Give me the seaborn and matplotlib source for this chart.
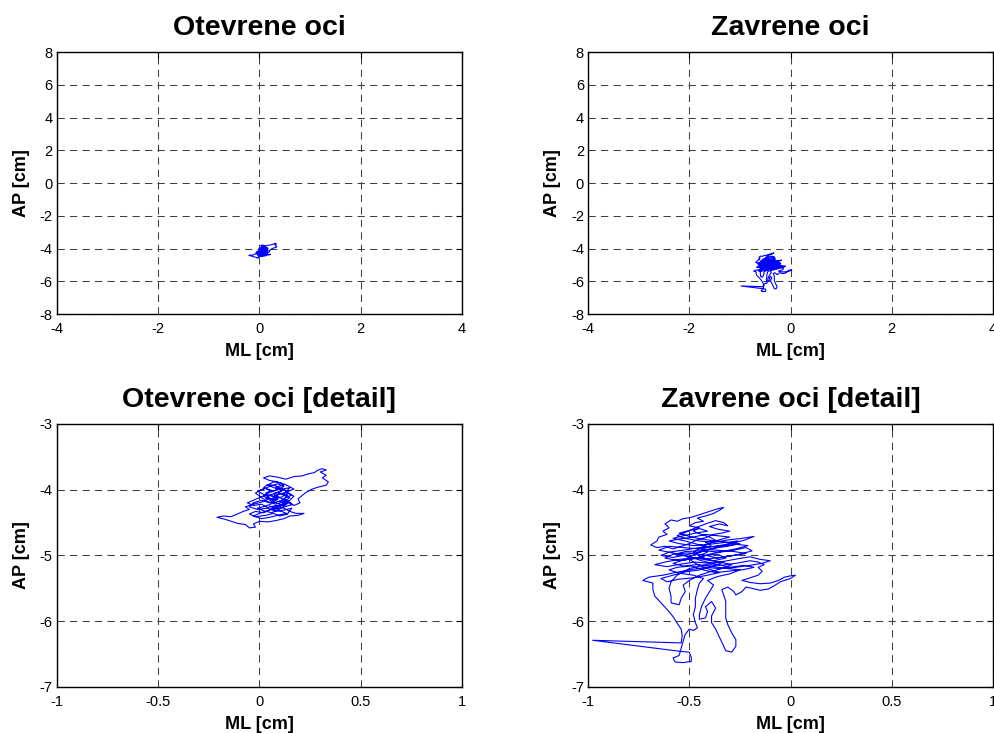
import numpy as np
import pandas as pd
import matplotlib
matplotlib.use("Agg")
import matplotlib.pyplot as plt
import seaborn as sns

# COP trajectory, eyes open (ML, AP in cm)
open_ml = [0.06, 0.09, 0.07, 0.11, 0.08, 0.12, 0.09, 0.05, 0.02, 0.05, 0.09, 0.13,
           0.17, 0.21, 0.24, 0.27, 0.29, 0.31, 0.33, 0.30, 0.33, 0.31, 0.34, 0.33,
           0.29, 0.26, 0.23, 0.21, 0.19, 0.20, 0.17, 0.15, 0.12, 0.14, 0.10, 0.07,
           0.03, 0.00, -0.03, -0.06, -0.03, 0.01, 0.04, 0.08, 0.12, 0.15, 0.18, 0.22,
           0.19, 0.15, 0.12, 0.08, 0.04, 0.00, -0.03, -0.02, -0.05, -0.07, -0.11, -0.14,
           -0.17, -0.21, -0.18, -0.14, -0.11, -0.08, -0.05, -0.07, -0.03, 0.02, 0.05, 0.03,
           0.06, 0.02, 0.04, 0.08, 0.11, 0.15, 0.13, 0.16, 0.13, 0.10, 0.13, 0.09,
           0.05, 0.02, -0.02, -0.05, -0.02, 0.03, 0.07, 0.10, 0.14, 0.11, 0.07, 0.10,
           0.14, 0.11, 0.07, 0.03, -0.01, 0.02, 0.06, 0.09, 0.12, 0.16, 0.13, 0.09,
           0.06, 0.02, 0.05, 0.09, 0.12, 0.09, 0.05, 0.01, -0.02, 0.01, 0.04, 0.08]
open_ap = [-4.18, -4.12, -4.06, -4.02, -3.96, -3.93, -3.88, -3.86, -3.82, -3.79, -3.81, -3.84,
           -3.80, -3.79, -3.76, -3.74, -3.70, -3.68, -3.70, -3.73, -3.78, -3.82, -3.88, -3.93,
           -3.96, -3.99, -4.04, -4.09, -4.14, -4.20, -4.24, -4.19, -4.14, -4.08, -4.05, -4.10,
           -4.08, -4.12, -4.16, -4.20, -4.24, -4.22, -4.27, -4.24, -4.28, -4.33, -4.36, -4.36,
           -4.39, -4.40, -4.44, -4.47, -4.49, -4.48, -4.52, -4.57, -4.58, -4.53, -4.51, -4.48,
           -4.45, -4.42, -4.40, -4.41, -4.37, -4.33, -4.30, -4.26, -4.22, -4.18, -4.13, -4.05,
           -4.01, -3.97, -3.92, -3.94, -3.99, -3.97, -4.03, -4.08, -4.12, -4.18, -4.22, -4.26,
           -4.31, -4.35, -4.33, -4.37, -4.41, -4.39, -4.36, -4.40, -4.37, -4.33, -4.30, -4.25,
           -4.21, -4.16, -4.20, -4.25, -4.28, -4.32, -4.35, -4.31, -4.26, -4.23, -4.17, -4.10,
           -4.14, -4.10, -4.04, -4.00, -3.95, -3.91, -3.95, -4.00, -4.05, -4.12, -4.18, -4.22]
# rest of the open-eyes trace (dense core)
open_ml_core = [0.12, 0.15, 0.11, 0.14, 0.10, 0.06, 0.03, -0.01, 0.02, 0.06,
                0.09, 0.05, 0.01, -0.03, -0.05, -0.01, 0.04, 0.08, 0.12, 0.16,
                0.14, 0.10, 0.05, 0.01, -0.03, 0.00, 0.04, 0.07, 0.11, 0.15,
                0.17, 0.14, 0.11, 0.07, 0.03, 0.05, 0.09, 0.12, 0.08, 0.04,
                0.07, 0.11, 0.14, 0.17, 0.13, 0.09, 0.05, 0.09, 0.13, 0.09,
                0.05]
open_ap_core = [-4.18, -4.12, -4.07, -4.02, -3.98, -4.03, -3.98, -4.02, -4.07, -4.09,
                -4.15, -4.20, -4.16, -4.20, -4.26, -4.30, -4.28, -4.33, -4.31, -4.28,
                -4.36, -4.38, -4.42, -4.44, -4.40, -4.36, -4.32, -4.27, -4.22, -4.16,
                -4.10, -4.05, -4.11, -4.15, -4.13, -4.08, -4.04, -4.00, -3.98, -3.93,
                -3.88, -3.90, -3.94, -3.99, -4.04, -4.08, -4.16, -4.21, -4.25, -4.29,
                -4.25]

# COP trajectory, eyes closed
closed_ml = [
    -0.45, -0.41, -0.44, -0.39, -0.42, -0.37, -0.40, -0.44, -0.48, -0.45, -0.50, -0.47,
    -0.43, -0.46, -0.42, -0.38, -0.35, -0.33, -0.36, -0.40, -0.44, -0.49, -0.53, -0.56,
    -0.59, -0.62, -0.60, -0.63, -0.61, -0.65, -0.66, -0.69, -0.66, -0.62, -0.58, -0.54,
    -0.50, -0.46, -0.42, -0.38, -0.34, -0.30, -0.36, -0.40, -0.35, -0.31, -0.33, -0.37,
    -0.42, -0.47, -0.52, -0.56, -0.52, -0.45, -0.38, -0.30, -0.24, -0.18, -0.23, -0.30,
    -0.37, -0.45, -0.53, -0.60, -0.64, -0.58, -0.50, -0.42, -0.35, -0.28, -0.22, -0.19,
    -0.25, -0.32, -0.40, -0.47, -0.55, -0.62, -0.67, -0.61, -0.54, -0.47, -0.40, -0.33,
    -0.26, -0.20, -0.15, -0.10, -0.14, -0.20, -0.27, -0.35, -0.42, -0.50, -0.57, -0.63,
    -0.70, -0.73, -0.68,
    -0.68, -0.67, -0.64, -0.61, -0.58, -0.56, -0.54, -0.535, -0.54, -0.977, -0.54, -0.50,
    -0.49, -0.49, -0.53, -0.57, -0.58, -0.55, -0.53, -0.52, -0.50, -0.48, -0.46, -0.47,
    -0.48, -0.47, -0.47, -0.46, -0.45, -0.43,
    -0.48, -0.55, -0.60, -0.56, -0.49, -0.43, -0.37, -0.31, -0.25, -0.30, -0.36, -0.41,
    -0.38, -0.40, -0.42, -0.44, -0.45, -0.45, -0.42, -0.41, -0.42, -0.39,
    -0.37, -0.39, -0.39, -0.37, -0.35, -0.33, -0.32, -0.29, -0.27, -0.27, -0.29, -0.31,
    -0.32, -0.32, -0.32, -0.33, -0.34, -0.31, -0.28, -0.27, -0.24, -0.22,
    -0.19, -0.15, -0.11, -0.08, -0.05, -0.02, 0.00, 0.024, 0.00, -0.03, -0.06, -0.10,
    -0.15, -0.20, -0.24, -0.20, -0.16, -0.14, -0.16, -0.13, -0.16, -0.20,
    -0.27, -0.34, -0.42, -0.50, -0.56, -0.59, -0.60, -0.59, -0.59, -0.55, -0.54, -0.52,
    -0.53, -0.50,
    -0.45, -0.40, -0.34, -0.29, -0.35, -0.43, -0.50, -0.57, -0.52, -0.45, -0.38, -0.31,
    -0.25, -0.32, -0.40, -0.48, -0.55, -0.60, -0.55, -0.48, -0.42, -0.36, -0.30, -0.35,
    -0.42, -0.48, -0.44, -0.38, -0.32, -0.36, -0.42]
closed_ap = [
    -5.00, -4.95, -4.90, -4.86, -4.80, -4.77, -4.72, -4.68, -4.63, -4.58, -4.55, -4.50,
    -4.48, -4.43, -4.40, -4.36, -4.31, -4.27, -4.29, -4.33, -4.37, -4.42, -4.44, -4.48,
    -4.46, -4.52, -4.58, -4.63, -4.68, -4.72, -4.78, -4.84, -4.88, -4.86, -4.90, -4.86,
    -4.82, -4.76, -4.73, -4.68, -4.66, -4.63, -4.60, -4.56, -4.52, -4.55, -4.50, -4.47,
    -4.52, -4.58, -4.65, -4.70, -4.74, -4.78, -4.80, -4.76, -4.74, -4.71, -4.77, -4.82,
    -4.86, -4.88, -4.92, -4.95, -5.00, -5.03, -4.98, -4.93, -4.95, -4.92, -4.88, -4.93,
    -4.98, -5.02, -5.05, -5.03, -5.06, -5.10, -5.14, -5.17, -5.13, -5.10, -5.12, -5.09,
    -5.05, -5.02, -5.06, -5.08, -5.12, -5.15, -5.18, -5.20, -5.18, -5.22, -5.26, -5.30,
    -5.33, -5.38, -5.42,
    -5.52, -5.62, -5.72, -5.82, -5.93, -6.03, -6.12, -6.22, -6.33, -6.29, -6.46, -6.47,
    -6.55, -6.61, -6.63, -6.62, -6.56, -6.52, -6.30, -6.20, -6.12, -6.14, -6.10, -6.02,
    -5.90, -5.78, -5.65, -5.52, -5.42, -5.35,
    -5.30, -5.27, -5.22, -5.18, -5.16, -5.22, -5.26, -5.24, -5.22, -5.28, -5.32, -5.38,
    -5.45, -5.55, -5.65, -5.78, -5.90, -5.97, -5.95, -5.85, -5.78, -5.70,
    -5.80, -5.92, -6.02, -6.12, -6.25, -6.38, -6.45, -6.47, -6.38, -6.28, -6.18, -6.05,
    -5.95, -5.82, -5.70, -5.60, -5.52, -5.48, -5.55, -5.60, -5.55, -5.48,
    -5.50, -5.53, -5.51, -5.46, -5.40, -5.37, -5.35, -5.30, -5.31, -5.33, -5.38, -5.42,
    -5.43, -5.41, -5.38, -5.34, -5.30, -5.24, -5.18, -5.14, -5.10, -5.08,
    -5.12, -5.15, -5.14, -5.20, -5.30, -5.40, -5.50, -5.62, -5.72, -5.75, -5.65, -5.55,
    -5.45, -5.38,
    -5.30, -5.25, -5.20, -5.14, -5.10, -5.06, -5.02, -4.98, -4.94, -4.93, -4.89, -4.86,
    -4.82, -4.80, -4.83, -4.85, -4.82, -4.78, -4.75, -4.72, -4.68, -4.70, -4.72, -4.76,
    -4.84, -4.95, -5.03, -5.08, -5.04, -4.98, -5.00]
# rest of the eyes-closed trace (dense core)
closed_ml_core = [-0.48, -0.55, -0.62, -0.58, -0.50, -0.43, -0.36, -0.28, -0.22, -0.28,
                  -0.36, -0.45, -0.53, -0.60, -0.65, -0.60, -0.52, -0.44, -0.37, -0.30,
                  -0.23, -0.18, -0.24, -0.31, -0.38, -0.46, -0.53, -0.58, -0.53, -0.46,
                  -0.40, -0.34, -0.27, -0.21, -0.27, -0.33, -0.40, -0.46, -0.52, -0.58,
                  -0.53, -0.47, -0.41, -0.45, -0.50, -0.55, -0.50, -0.44, -0.37, -0.31,
                  -0.26, -0.32, -0.39, -0.46, -0.51, -0.47, -0.41, -0.35, -0.41, -0.48,
                  -0.55, -0.61, -0.64, -0.58, -0.52, -0.45, -0.38, -0.33]
closed_ap_core = [-5.05, -5.08, -5.04, -4.98, -4.96, -4.99, -5.04, -5.00, -4.97, -4.94,
                  -4.92, -4.90, -4.88, -4.86, -4.92, -4.95, -5.00, -5.08, -5.13, -5.18,
                  -5.15, -5.18, -5.22, -5.20, -5.17, -5.14, -5.16, -5.12, -5.07, -5.04,
                  -4.98, -4.94, -4.90, -4.85, -4.83, -4.85, -4.87, -4.83, -4.78, -4.74,
                  -4.70, -4.66, -4.63, -4.59, -4.62, -4.66, -4.71, -4.75, -4.78, -4.80,
                  -4.78, -4.84, -4.90, -4.96, -5.04, -5.12, -5.20, -5.26, -5.30, -5.34,
                  -5.36, -5.40, -5.35, -5.30, -5.25, -5.22, -5.16, -5.10]

titles = ["Otevrene oci", "Zavrene oci", "Otevrene oci [detail]", "Zavrene oci [detail]"]

sns.set_theme(style="white")
plt.rcParams["font.family"] = ["Liberation Sans", "DejaVu Sans"]
plt.rcParams["text.color"] = "black"
plt.rcParams["axes.labelcolor"] = "black"

df_open = pd.DataFrame({"ML": open_ml + open_ml_core, "AP": open_ap + open_ap_core})
df_closed = pd.DataFrame({"ML": closed_ml + closed_ml_core, "AP": closed_ap + closed_ap_core})

fig = plt.figure(figsize=(9.95, 7.33), dpi=100)
positions = [
    [0.0573, 0.5716, 0.407, 0.3574],
    [0.5910, 0.5716, 0.407, 0.3574],
    [0.0573, 0.0628, 0.407, 0.3588],
    [0.5910, 0.0628, 0.407, 0.3588],
]
data = [df_open, df_closed, df_open, df_closed]

for i, (pos, df, title) in enumerate(zip(positions, data, titles)):
    ax = fig.add_axes(pos)
    sns.lineplot(data=df, x="ML", y="AP", sort=False, estimator=None,
                 color="#0000ff", linewidth=0.8, ax=ax)
    if i < 2:
        ax.set_xlim(-4, 4)
        ax.set_ylim(-8, 8)
        ax.set_xticks([-4, -2, 0, 2, 4])
        ax.set_yticks([-8, -6, -4, -2, 0, 2, 4, 6, 8])
        ax.set_xticklabels(["-4", "-2", "0", "2", "4"])
        ax.set_yticklabels(["-8", "-6", "-4", "-2", "0", "2", "4", "6", "8"])
    else:
        ax.set_xlim(-1, 1)
        ax.set_ylim(-7, -3)
        ax.set_xticks([-1, -0.5, 0, 0.5, 1])
        ax.set_yticks([-7, -6, -5, -4, -3])
        ax.set_xticklabels(["-1", "-0.5", "0", "0.5", "1"])
        ax.set_yticklabels(["-7", "-6", "-5", "-4", "-3"])
    ax.grid(True, color="0.25", linestyle=(0, (7, 5)), linewidth=0.75)
    ax.tick_params(direction="in", length=4, width=0.8, labelsize=10.5,
                   top=True, right=True, colors="black")
    ax.tick_params(axis="x", pad=6)
    ax.tick_params(axis="y", pad=3)
    for s in ax.spines.values():
        s.set_color("black")
        s.set_linewidth(1.0)
    ax.set_title(title, fontsize=20.5, fontweight="bold", pad=12, color="black")
    ax.set_xlabel("ML [cm]", fontsize=13, fontweight="bold", labelpad=5)
    ax.set_ylabel("AP [cm]", fontsize=13, fontweight="bold", labelpad=7)

fig.savefig("out.png", dpi=100)
